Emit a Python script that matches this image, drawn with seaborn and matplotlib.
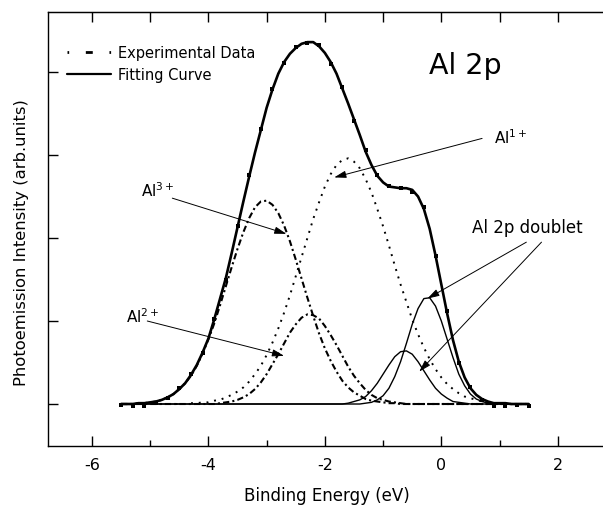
import numpy as np
import pandas as pd
import matplotlib
matplotlib.use('Agg')
import matplotlib.pyplot as plt
import seaborn as sns
from matplotlib.lines import Line2D

# binding energy grid (eV)
energy = [-5.5, -5.4, -5.3, -5.2, -5.1, -5.0, -4.9, -4.8, -4.7, -4.6,
          -4.5, -4.4, -4.3, -4.2, -4.1, -4.0, -3.9, -3.8, -3.7, -3.6,
          -3.5, -3.4, -3.3, -3.2, -3.1, -3.0, -2.9, -2.8, -2.7, -2.6,
          -2.5, -2.4, -2.3, -2.2, -2.1, -2.0, -1.9, -1.8, -1.7, -1.6,
          -1.5, -1.4, -1.3, -1.2, -1.1, -1.0, -0.9, -0.8, -0.7, -0.6,
          -0.5, -0.4, -0.3, -0.2, -0.1, 0.0, 0.1, 0.2, 0.3, 0.4,
          0.5, 0.6, 0.7, 0.8, 0.9, 1.0, 1.1, 1.2, 1.3, 1.4,
          1.5]

fit_total = [0.00, 0.00, 0.00, 0.01, 0.01, 0.02, 0.03, 0.05, 0.08, 0.12,
             0.18, 0.25, 0.35, 0.47, 0.62, 0.79, 1.02, 1.27, 1.52, 1.82,
             2.13, 2.44, 2.74, 3.03, 3.30, 3.57, 3.79, 3.98, 4.12, 4.22,
             4.29, 4.34, 4.36, 4.36, 4.31, 4.23, 4.12, 3.98, 3.80, 3.62,
             3.43, 3.24, 3.04, 2.88, 2.75, 2.67, 2.62, 2.61, 2.60, 2.60,
             2.58, 2.50, 2.35, 2.11, 1.79, 1.44, 1.09, 0.77, 0.51, 0.32,
             0.19, 0.11, 0.06, 0.03, 0.01, 0.01, 0.01, 0.00, 0.00, 0.00,
             0.00]

al3 = [0.00, 0.00, 0.00, 0.01, 0.01, 0.02, 0.03, 0.05, 0.08, 0.12,
       0.18, 0.25, 0.34, 0.46, 0.61, 0.78, 0.97, 1.19, 1.42, 1.65,
       1.87, 2.07, 2.24, 2.37, 2.44, 2.45, 2.40, 2.30, 2.15, 1.96,
       1.74, 1.51, 1.28, 1.06, 0.85, 0.67, 0.52, 0.39, 0.28, 0.20,
       0.14, 0.10, 0.06, 0.04, 0.03, 0.02, 0.01, 0.01, 0.00, 0.00,
       0.00, 0.00, 0.00, 0.00, 0.00, 0.00, 0.00, 0.00, 0.00, 0.00,
       0.00, 0.00, 0.00, 0.00, 0.00, 0.00, 0.00, 0.00, 0.00, 0.00,
       0.00]

al2 = [0.00, 0.00, 0.00, 0.00, 0.00, 0.00, 0.00, 0.00, 0.00, 0.00,
       0.00, 0.00, 0.00, 0.00, 0.00, 0.00, 0.00, 0.01, 0.02, 0.03,
       0.05, 0.08, 0.12, 0.18, 0.26, 0.36, 0.48, 0.60, 0.73, 0.86,
       0.96, 1.04, 1.08, 1.07, 1.03, 0.94, 0.83, 0.71, 0.58, 0.45,
       0.34, 0.25, 0.17, 0.11, 0.07, 0.05, 0.03, 0.02, 0.01, 0.00,
       0.00, 0.00, 0.00, 0.00, 0.00, 0.00, 0.00, 0.00, 0.00, 0.00,
       0.00, 0.00, 0.00, 0.00, 0.00, 0.00, 0.00, 0.00, 0.00, 0.00,
       0.00]

al1 = [0.00, 0.00, 0.00, 0.00, 0.00, 0.00, 0.00, 0.00, 0.00, 0.00,
       0.00, 0.00, 0.01, 0.01, 0.02, 0.02, 0.04, 0.05, 0.08, 0.11,
       0.15, 0.20, 0.27, 0.36, 0.46, 0.59, 0.74, 0.91, 1.10, 1.31,
       1.54, 1.77, 2.00, 2.23, 2.43, 2.62, 2.77, 2.88, 2.94, 2.96,
       2.92, 2.84, 2.71, 2.55, 2.35, 2.14, 1.91, 1.67, 1.44, 1.23,
       1.02, 0.84, 0.68, 0.54, 0.42, 0.32, 0.24, 0.18, 0.13, 0.09,
       0.07, 0.05, 0.03, 0.02, 0.01, 0.01, 0.01, 0.00, 0.00, 0.00,
       0.00]

# Al 2p doublet, stronger and weaker component
al0_a = [0.00, 0.00, 0.00, 0.00, 0.00, 0.00, 0.00, 0.00, 0.00, 0.00,
         0.00, 0.00, 0.00, 0.00, 0.00, 0.00, 0.00, 0.00, 0.00, 0.00,
         0.00, 0.00, 0.00, 0.00, 0.00, 0.00, 0.00, 0.00, 0.00, 0.00,
         0.00, 0.00, 0.00, 0.00, 0.00, 0.00, 0.00, 0.00, 0.00, 0.00,
         0.00, 0.00, 0.01, 0.02, 0.05, 0.10, 0.19, 0.33, 0.51, 0.73,
         0.96, 1.15, 1.27, 1.28, 1.18, 1.00, 0.78, 0.56, 0.36, 0.22,
         0.12, 0.06, 0.03, 0.01, 0.00, 0.00, 0.00, 0.00, 0.00, 0.00,
         0.00]

al0_b = [0.00, 0.00, 0.00, 0.00, 0.00, 0.00, 0.00, 0.00, 0.00, 0.00,
         0.00, 0.00, 0.00, 0.00, 0.00, 0.00, 0.00, 0.00, 0.00, 0.00,
         0.00, 0.00, 0.00, 0.00, 0.00, 0.00, 0.00, 0.00, 0.00, 0.00,
         0.00, 0.00, 0.00, 0.00, 0.00, 0.00, 0.00, 0.00, 0.00, 0.01,
         0.03, 0.05, 0.09, 0.16, 0.25, 0.36, 0.47, 0.57, 0.63, 0.64,
         0.60, 0.51, 0.40, 0.29, 0.19, 0.12, 0.07, 0.03, 0.02, 0.01,
         0.00, 0.00, 0.00, 0.00, 0.00, 0.00, 0.00, 0.00, 0.00, 0.00,
         0.00]

exp_energy = [-5.5, -5.3, -5.1, -4.9, -4.7, -4.5, -4.3, -4.1, -3.9, -3.7,
              -3.5, -3.3, -3.1, -2.9, -2.7, -2.5, -2.3, -2.1, -1.9, -1.7,
              -1.5, -1.3, -1.1, -0.9, -0.7, -0.5, -0.3, -0.1, 0.1, 0.3,
              0.5, 0.7, 0.9, 1.1, 1.3, 1.5]
exp_counts = [-0.01, -0.03, -0.02, 0.01, 0.07, 0.19, 0.36, 0.62, 1.03, 1.50,
              2.15, 2.76, 3.31, 3.80, 4.11, 4.30, 4.35, 4.33, 4.10, 3.82,
              3.41, 3.06, 2.76, 2.63, 2.60, 2.56, 2.37, 1.78, 1.12, 0.50,
              0.20, 0.05, -0.02, -0.03, -0.01, -0.03]

sns.set_style('ticks')
plt.rcParams['font.family'] = ['DejaVu Sans']
plt.rcParams['mathtext.default'] = 'regular'
plt.rcParams['axes.unicode_minus'] = False
plt.rcParams['text.color'] = 'black'
plt.rcParams['axes.labelcolor'] = 'black'
plt.rcParams['xtick.color'] = 'black'
plt.rcParams['ytick.color'] = 'black'

df = pd.DataFrame({'energy': energy, 'fit': fit_total, 'al3': al3, 'al2': al2,
                   'al1': al1, 'al0_a': al0_a, 'al0_b': al0_b})
exp = pd.DataFrame({'energy': exp_energy, 'counts': exp_counts})

fig = plt.figure(figsize=(6.03, 5.06), dpi=100)
ax = fig.add_axes([0.0796, 0.1166, 0.925, 0.8577])

dashdot = (0, (3, 1.5, 1, 1.5))
sns.lineplot(data=df, x='energy', y='al0_a', ax=ax, color='black', lw=1.0)
sns.lineplot(data=df, x='energy', y='al0_b', ax=ax, color='black', lw=1.0)
sns.lineplot(data=df, x='energy', y='al3', ax=ax, color='black', lw=1.5, linestyle=dashdot)
sns.lineplot(data=df, x='energy', y='al2', ax=ax, color='black', lw=1.5, linestyle=dashdot)
sns.lineplot(data=df, x='energy', y='al1', ax=ax, color='black', lw=1.4, linestyle=(0, (1, 3)))
sns.lineplot(data=df, x='energy', y='fit', ax=ax, color='black', lw=1.9)
sns.scatterplot(data=exp, x='energy', y='counts', ax=ax, marker='s', s=7,
                color='black', linewidth=0, zorder=5)

ax.set_xlim(-6.755, 2.824)
ax.set_ylim(-0.506, 4.723)
ax.set_xticks([-6, -4, -2, 0, 2])
ax.set_xticks([-5, -3, -1, 1], minor=True)
ax.set_yticks([0, 1, 2, 3, 4])
ax.set_yticklabels([])
ax.tick_params(which='major', direction='in', length=7, width=1, labelsize=11.5, pad=8,
               top=False, right=False)
ax.tick_params(which='minor', direction='in', length=4, width=1, top=False, right=False)
for s in ax.spines.values():
    s.set_linewidth(1.0)
    s.set_color('black')

top = ax.secondary_xaxis('top')
top.set_xticks([-6, -5, -4, -3, -2, -1, 0, 1, 2])
top.set_xticklabels([])
top.tick_params(direction='in', length=7, width=1)

ax.set_xlabel('Binding Energy (eV)', fontsize=12, labelpad=10)
ax.set_ylabel('Photoemission Intensity (arb.units)', fontsize=11.8)
ax.yaxis.set_label_coords(-0.034, 0.472)

# legend
handles = [Line2D([], [], color='black', lw=2, linestyle=(0, (0.6, 6, 2.5, 6))),
           Line2D([], [], color='black', lw=1.6)]
ax.legend(handles, ['Experimental Data', 'Fitting Curve'], loc='upper left',
          bbox_to_anchor=(0.034, 0.923), frameon=False, fontsize=10.5,
          handlelength=3.0, handletextpad=0.5, borderpad=0, borderaxespad=0,
          labelspacing=0.45)

ax.text(-0.21, 3.99, 'Al 2p', fontsize=20.5, va='baseline')

arrow = dict(arrowstyle='-|>,head_length=0.6,head_width=0.18', color='black',
             lw=0.7, shrinkA=0, shrinkB=0, mutation_scale=12)
ax.text(0.91, 3.14, 'Al$^{1+}$', fontsize=11, va='baseline')
ax.annotate('', xy=(-1.84, 2.73), xytext=(0.70, 3.20), arrowprops=arrow)
ax.text(-5.15, 2.51, 'Al$^{3+}$', fontsize=11, va='baseline')
ax.annotate('', xy=(-2.66, 2.05), xytext=(-4.62, 2.48), arrowprops=arrow)
ax.text(-5.41, 0.99, 'Al$^{2+}$', fontsize=11, va='baseline')
ax.annotate('', xy=(-2.70, 0.58), xytext=(-5.05, 1.00), arrowprops=arrow)
ax.text(0.53, 2.07, 'Al 2p doublet', fontsize=12, va='baseline')
ax.annotate('', xy=(-0.24, 1.27), xytext=(1.46, 1.95), arrowprops=arrow)
ax.annotate('', xy=(-0.38, 0.39), xytext=(1.72, 1.95), arrowprops=arrow)

fig.savefig('out.png', dpi=100)
